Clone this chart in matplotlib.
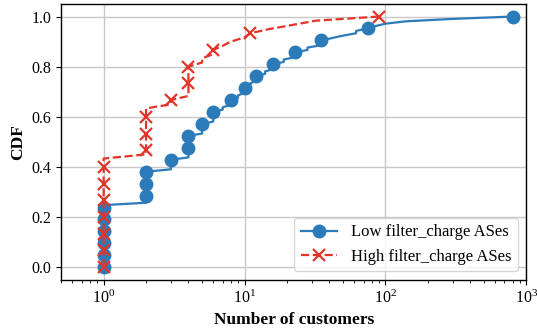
import numpy as np
import matplotlib
matplotlib.use('Agg')
import matplotlib.pyplot as plt

plt.rcParams['font.family'] = ['Liberation Serif', 'DejaVu Serif']
plt.rcParams['mathtext.fontset'] = 'stix'
plt.rcParams['font.size'] = 12

# number of customers per AS (distinct value, how many ASes)
low_values = [1, 2, 3, 4, 5, 6, 7, 8, 9, 10, 11, 12, 14, 16, 19, 23, 28, 35, 42, 50, 62, 75, 85, 100, 140, 300, 800]
low_counts = [27, 14, 5, 10, 5, 5, 2, 3, 2, 3, 2, 3, 2, 3, 2, 3, 2, 3, 1, 1, 2, 1, 1, 1, 1, 1, 1]

high_values = [1, 2, 3, 4, 5, 6, 7, 8, 10, 11, 15, 22, 32, 90]
high_counts = [27, 12, 2, 8, 2, 2, 1, 1, 1, 1, 1, 1, 1, 1]

low = np.repeat(low_values, low_counts)
high = np.repeat(high_values, high_counts)
low_cdf = np.arange(len(low)) / (len(low) - 1)
high_cdf = np.arange(len(high)) / (len(high) - 1)

fig, ax = plt.subplots(figsize=(5.37, 3.33), dpi=100)
ax.plot(low, low_cdf, color='#2b7bba', lw=1.6, marker='o', markersize=9,
        markevery=5, label='Low filter_charge ASes')
ax.plot(high, high_cdf, color='#e3342a', lw=1.6, ls='--', marker='x', markersize=8,
        markeredgewidth=1.6, markevery=4, label='High filter_charge ASes')

ax.set_xscale('log')
ax.set_xlim(0.5, 1000)
ax.set_ylim(-0.05, 1.05)
ax.set_yticks([0, 0.2, 0.4, 0.6, 0.8, 1.0])
ax.tick_params(labelsize=11.5)
ax.grid(True, which='major', color='#c8c8c8', lw=1)
ax.set_axisbelow(True)
ax.set_xlabel('Number of customers', fontweight='bold', fontsize=12.5)
ax.set_ylabel('CDF', fontweight='bold', fontsize=12.5)
for s in ax.spines.values():
    s.set_linewidth(1.0)
ax.legend(loc='lower right', fontsize=12, handlelength=2.2)

fig.subplots_adjust(left=0.114, right=0.98, top=0.988, bottom=0.16)
plt.savefig('out.png', dpi=100)
